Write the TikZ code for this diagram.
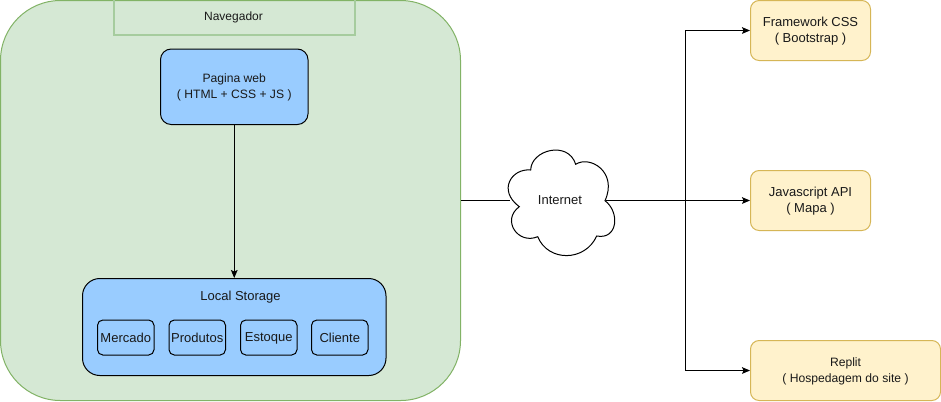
\documentclass[tikz,border=0pt]{standalone}
\usepackage{fontspec}
\setmainfont{Liberation Sans}
\usetikzlibrary{arrows.meta,calc}
\definecolor{outerfill}{HTML}{D5E8D4}
\definecolor{outerline}{HTML}{82B366}
\definecolor{navline}{HTML}{A6CC9E}
\definecolor{bluefill}{HTML}{99CCFF}
\definecolor{yelfill}{HTML}{FFF2CC}
\definecolor{yelline}{HTML}{D6B656}
\tikzset{
  x=0.75pt,y=-0.75pt,
  every node/.style={align=center,inner sep=0pt,text=black!90},
  bluebox/.style={draw=black,fill=bluefill,line width=0.75pt,rounded corners=#1},
  bluebox/.default=4pt,
  yelbox/.style={draw=yelline,fill=yelfill,line width=0.75pt,rounded corners=6.5pt},
  conn/.style={draw=black,line width=0.75pt},
  arr/.style={conn,-{Stealth[length=6pt,width=5pt,inset=1.2pt]}},
}
\newcommand{\fsa}{\fontsize{9.1}{11.4}\selectfont}
\newcommand{\fsb}{\fontsize{9.75}{12.4}\selectfont}
\newcommand{\fsc}{\fontsize{9.1}{12}\selectfont}
\newcommand{\bx}[7]{% name, style, x0, y0, x1, y1, text
  \node[#2,minimum width={(#5-#3)*0.75pt},minimum height={(#6-#4)*0.75pt},anchor=center] (#1) at ({(#3+#5)/2},{(#4+#6)/2}) {};
  \node (#1text) at ($(#1.center)+(0,0.8)$) {#7};}
\begin{document}
\begin{tikzpicture}
\useasboundingbox (0,0) rectangle (941,401);
\fill[white] (0,0) rectangle (941,401);
\bx{browser}{draw=outerline,fill=outerfill,line width=0.75pt,rounded corners=45pt}{0.5}{0.5}{460.5}{400.5}{}
\bx{nav}{draw=navline,line width=1.5pt}{113.5}{-3}{355}{35}{}
\node (navlabel) at (233.5,17.5) {\fontsize{9}{10.5}\selectfont Navegador};
\bx{web}{bluebox=8pt}{160.5}{49}{308}{124.5}{\fsa Pagina web\\\fsa ( HTML + CSS + JS )}
\bx{storage}{bluebox=13pt}{82.5}{278.5}{386}{375.5}{}
\node (storagelabel) at (240.5,297) {\fsb Local Storage};
\bx{mercado}{bluebox=4pt}{97.5}{320}{154}{355}{\fsb Mercado}
\bx{produtos}{bluebox=4pt}{169}{320}{225.5}{355}{\fsb Produtos}
\bx{estoque}{bluebox=4pt}{240.5}{320}{297}{355}{\fsb Estoque}
\bx{cliente}{bluebox=4pt}{311.5}{320}{368}{355}{\fsb Cliente}
\draw[arr] (web.south) -- (web.south |- storage.north);
% cloud
\draw[draw=black,line width=0.75pt,fill=white]
  (530.7,170)
  .. controls (531,150) and (568,140) .. (575.7,164.3)
  .. controls (590,155) and (618,172) .. (605,200.7)
  .. controls (620,212) and (618,240) .. (596.7,236)
  .. controls (585,262) and (548,262) .. (537.7,236.7)
  .. controls (518,245) and (501,220) .. (519.3,206.7)
  .. controls (497,190) and (512,168) .. (530.7,170) -- cycle;
\node[minimum width=72pt,minimum height=30pt] (internet) at (558,200.5) {\hspace*{3pt}\raisebox{-0.4pt}{\fsb Internet}};
\bx{css}{yelbox}{750.5}{0.5}{870.5}{60.5}{\fsb Framework CSS\\\fsb ( Bootstrap )}
\bx{api}{yelbox}{750.5}{170.5}{870.5}{230.5}{\fsb Javascript API\\\fsb ( Mapa )}
\bx{replit}{yelbox}{750.5}{340.5}{940.5}{400.5}{\fsc Replit\\\fsc ( Hospedagem do site )}
\coordinate (bus) at (685.5,200.5);
\draw[conn] (browser.east |- internet.center) -- (internet.west);
\draw[arr] (internet.east) -- (api.west);
\draw[arr] (bus) |- (css.west);
\draw[arr] (bus) |- (replit.west);
\end{tikzpicture}
\end{document}
